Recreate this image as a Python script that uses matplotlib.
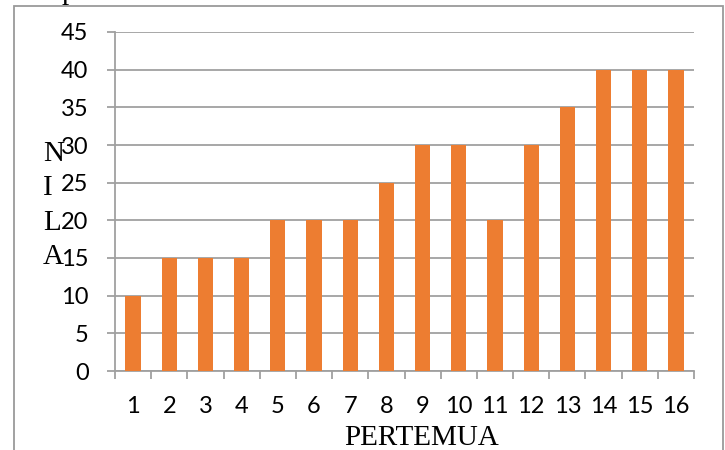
import numpy as np
import matplotlib.pyplot as plt
from matplotlib.patches import Rectangle

pertemuan = list(range(1, 17))
nilai = [10, 15, 15, 15, 20, 20, 20, 25, 30, 30, 20, 30, 35, 40, 40, 40]
y_ticks = [0, 5, 10, 15, 20, 25, 30, 35, 40, 45]

W, H = 725, 450
fig = plt.figure(figsize=(W / 100, H / 100), dpi=100)

# outer chart border (bottom edge runs off the image)
fig.patches.append(Rectangle((14 / W, -0.1), (723 - 14) / W, 1.1 - 6 / H,
                             transform=fig.transFigure, fill=False,
                             edgecolor='#9a9a9a', linewidth=1.3))

ax = fig.add_axes([115 / W, (H - 371) / H, (694 - 115) / W, 339 / H])
ax.bar(pertemuan, nilai, width=0.42, color='#ED7D31', zorder=3)

ax.set_xlim(0.5, 16.5)
ax.set_ylim(0, 45)
ax.set_yticks(y_ticks)
ax.set_xticks(pertemuan)
ax.set_xticks(np.arange(0.5, 17, 1), minor=True)

label_font = dict(family='Lato', size=17)
ax.set_yticklabels([str(v) for v in y_ticks], fontdict=label_font)
ax.set_xticklabels([str(v) for v in pertemuan], fontdict=label_font)

ax.tick_params(axis='y', length=6, width=1.3, color='#a0a0a0', pad=13)
ax.tick_params(axis='x', which='major', length=0, pad=18)
ax.tick_params(axis='x', which='minor', length=6, width=1.3, color='#a0a0a0')

ax.grid(axis='y', color='#a0a0a0', linewidth=1.3, zorder=0)
for side in ['top', 'right']:
    ax.spines[side].set_visible(False)
ax.spines['left'].set_color('#a0a0a0')
ax.spines['bottom'].set_color('#a0a0a0')
ax.spines['left'].set_linewidth(1.3)
ax.spines['bottom'].set_linewidth(1.3)

# vertical letters of the y label
serif = dict(family='Liberation Serif', size=21, color='black')
for letter, yp in zip('NILA', [154, 188, 223, 257]):
    fig.text(43 / W, 1 - yp / H, letter, va='center', ha='left', **serif)

fig.text(422 / W, 1 - 445 / H, 'PERTEMUA', ha='center', va='baseline', **serif)

# clipped fragment of text above the chart
fig.text(62 / W, 1 + 1 / H, 'p', ha='left', va='baseline', **serif)

fig.savefig('out.png', dpi=100)
